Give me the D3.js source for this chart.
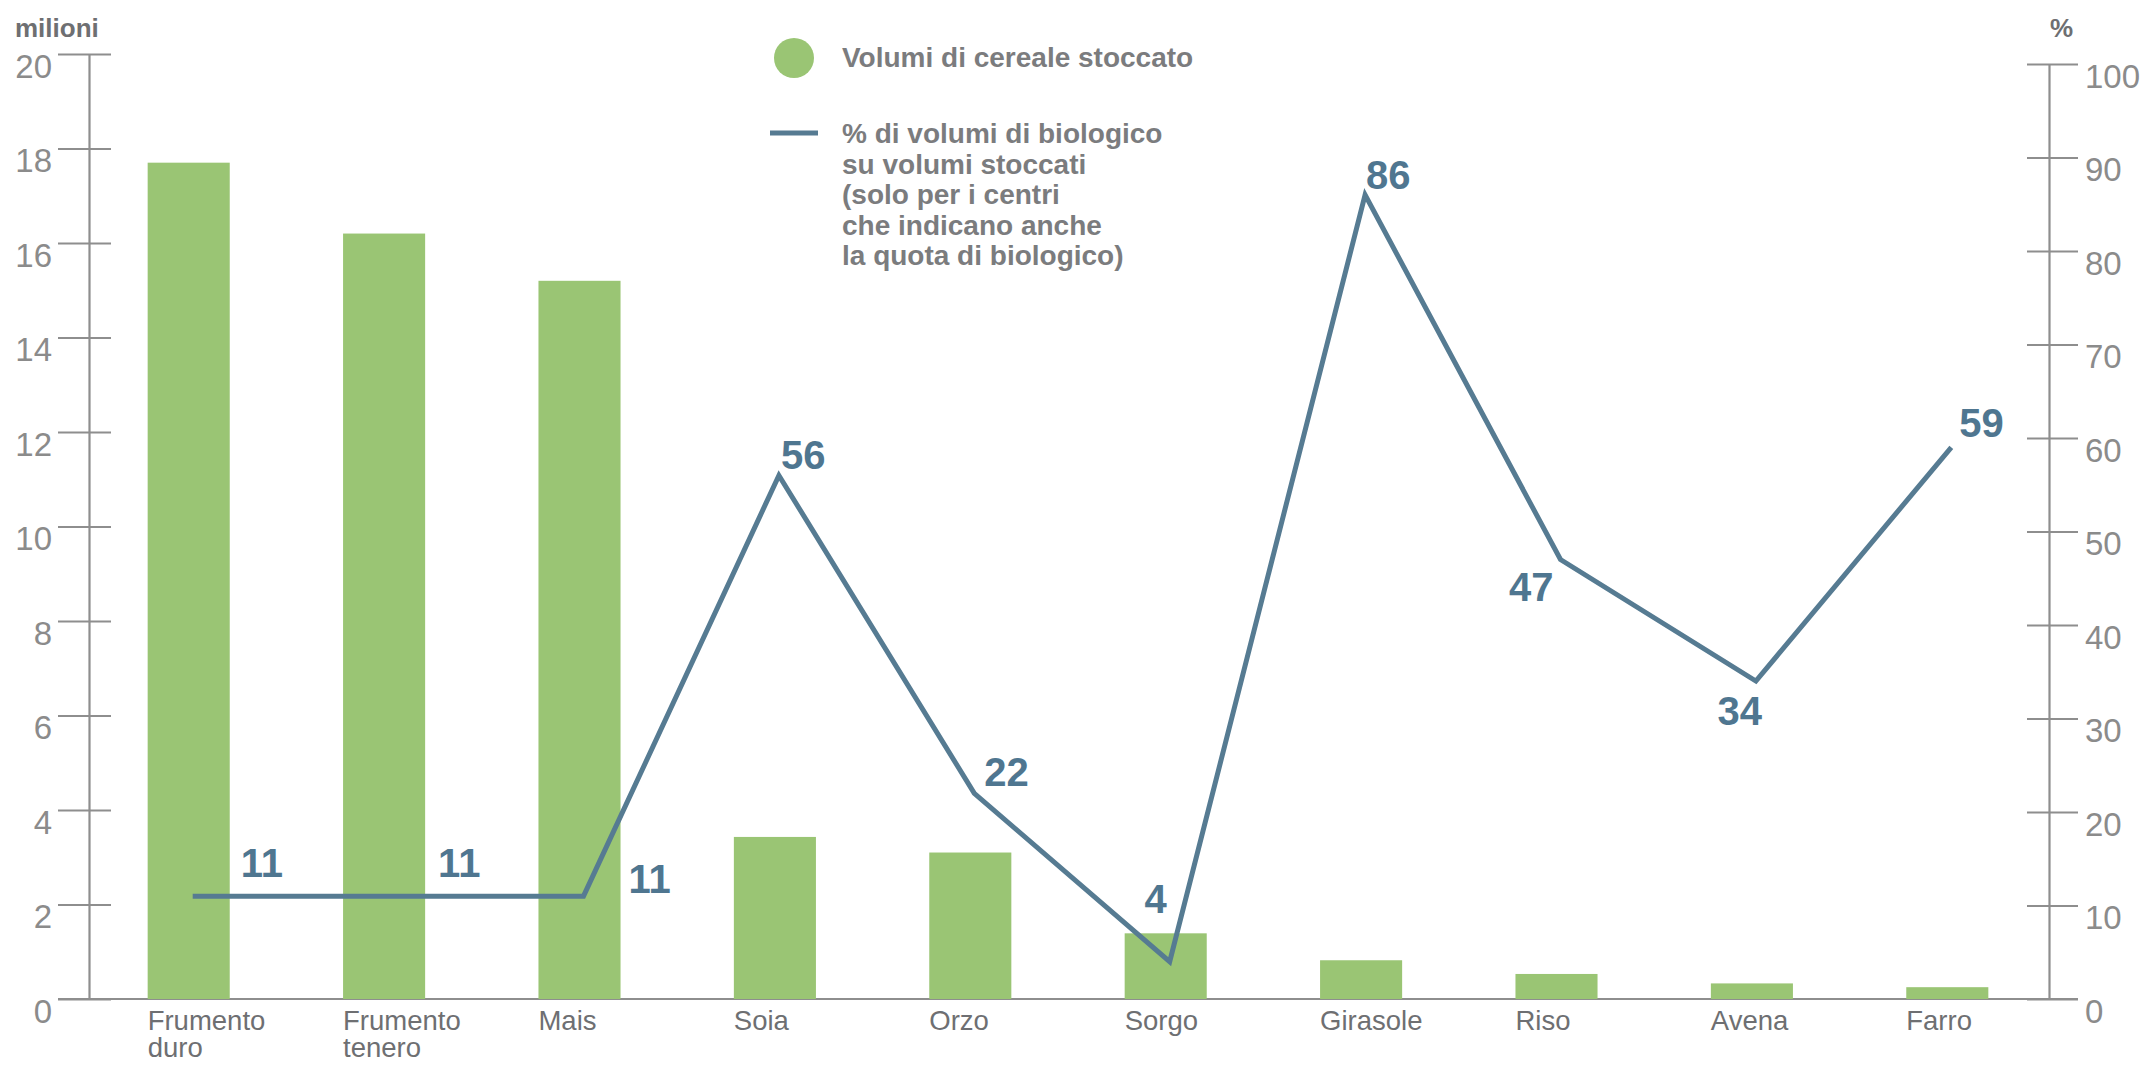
<!DOCTYPE html>
<html>
<head>
<meta charset="utf-8">
<script src="https://cdn.jsdelivr.net/npm/d3@7"></script>
<style>
    body { margin: 0; background: #fff; }
    svg text { font-family: "Liberation Sans", Arial, sans-serif; }
    .axis path, .axis line { stroke: #8e8e8e; stroke-width: 2.2; fill: none; }
    .axis text { fill: #8b8b8b; font-size: 33px; }
    .baseline { stroke: #8e8e8e; stroke-width: 2.2; }
    .bar { fill: #9ac574; }
    .share { fill: none; stroke: #567b92; stroke-width: 5; stroke-linejoin: miter; }
    .share-label { fill: #4f7690; font-size: 40px; font-weight: bold; }
    .cat-label { fill: #6e6f72; font-size: 27.5px; }
    .unit { fill: #6e6f72; font-size: 26px; font-weight: bold; }
    .legend text { fill: #7b7c7e; font-size: 28px; font-weight: bold; }
</style>
</head>
<body>
<svg id="chart" width="2146" height="1065"></svg>
<script>
// data
const categories = ["Frumento duro", "Frumento tenero", "Mais", "Soia", "Orzo",
                    "Sorgo", "Girasole", "Riso", "Avena", "Farro"];
const volumes = [17.7, 16.2, 15.2, 3.43, 3.1, 1.39, 0.82, 0.53, 0.33, 0.25];   // milioni
const organicShare = [11, 11, 11, 56, 22, 4, 86, 47, 34, 59];                  // %
const leftTicks = [0, 2, 4, 6, 8, 10, 12, 14, 16, 18, 20];
const rightTicks = [0, 10, 20, 30, 40, 50, 60, 70, 80, 90, 100];
const legendBars = "Volumi di cereale stoccato";
const legendLine = ["% di volumi di biologico", "su volumi stoccati", "(solo per i centri",
                    "che indicano anche", "la quota di biologico)"];

// where each % label sits relative to its point: dx, dy, anchor
const labelOffsets = [[48, -19, "start"], [50, -19, "start"], [45, -3, "start"],
                      [2, -6, "start"], [10, -7, "start"], [-3, -49, "end"],
                      [1, -6, "start"], [-7, 41, "end"], [6, 44, "end"], [8, -10, "start"]];

/** Class for the stored volume / organic share chart. */
class StockChart {
    constructor() {
        this.svg = d3.select("#chart");
        this.x = d3.scaleBand().domain(categories).range([91, 2045])
                    .paddingInner(0.58).paddingOuter(0.29);
        this.yLeft = d3.scaleLinear().domain([0, 20]).range([999, 54]);
        this.yRight = d3.scaleLinear().domain([0, 100]).range([999, 64]);
        this.leftX = 89;
        this.rightX = 2049;
    }

    drawAxes() {
        let left = this.svg.append("g").attr("class", "axis")
            .attr("transform", `translate(${this.leftX},0)`)
            .call(d3.axisLeft(this.yLeft).tickValues(leftTicks).tickSize(31)
                    .tickSizeOuter(0).tickPadding(6));
        left.selectAll(".tick line").attr("x1", 22);
        left.selectAll(".tick text").attr("dy", null).attr("y", 23);

        let right = this.svg.append("g").attr("class", "axis")
            .attr("transform", `translate(${this.rightX},0)`)
            .call(d3.axisRight(this.yRight).tickValues(rightTicks).tickSize(29)
                    .tickSizeOuter(0).tickPadding(7));
        right.selectAll(".tick line").attr("x1", -22);
        right.selectAll(".tick text").attr("dy", null).attr("y", 23);

        this.svg.selectAll(".axis").attr("font-family", null).attr("font-size", null);

        this.svg.append("line").attr("class", "baseline")
            .attr("x1", this.leftX - 31).attr("x2", this.rightX + 29)
            .attr("y1", this.yLeft(0)).attr("y2", this.yLeft(0));

        this.svg.append("text").attr("class", "unit").attr("x", 15).attr("y", 37).text("milioni");
        this.svg.append("text").attr("class", "unit").attr("x", 2050).attr("y", 37).text("%");
    }

    drawBars() {
        let x = this.x, y = this.yLeft;
        this.svg.append("g").selectAll("rect").data(categories).enter()
            .append("rect")
            .attr("class", "bar")
            .attr("x", d => x(d))
            .attr("width", x.bandwidth())
            .attr("y", (d, i) => y(volumes[i]))
            .attr("height", (d, i) => y(0) - y(volumes[i]));

        let labels = this.svg.append("g").selectAll("text").data(categories).enter()
            .append("text")
            .attr("class", "cat-label")
            .attr("x", d => x(d))
            .attr("y", 1030);
        labels.selectAll("tspan").data(d => d.split(" ")).enter()
            .append("tspan")
            .attr("x", function () { return this.parentNode.getAttribute("x"); })
            .attr("dy", (d, i) => i ? 27 : 0)
            .text(d => d);
    }

    drawLine() {
        let x = this.x, y = this.yRight;
        let px = (d, i) => x(categories[i]) + x.bandwidth() / 2 + 4;
        let line = d3.line().x((d, i) => px(d, i)).y(d => y(d));

        this.svg.append("path").datum(organicShare)
            .attr("class", "share")
            .attr("d", line);

        this.svg.append("g").selectAll("text").data(organicShare).enter()
            .append("text")
            .attr("class", "share-label")
            .attr("x", (d, i) => px(d, i) + labelOffsets[i][0])
            .attr("y", d => y(d))
            .attr("dy", (d, i) => labelOffsets[i][1])
            .attr("text-anchor", (d, i) => labelOffsets[i][2])
            .text(d => d);
    }

    drawLegend() {
        let g = this.svg.append("g").attr("class", "legend");
        g.append("circle").attr("cx", 794).attr("cy", 58).attr("r", 20).attr("fill", "#9ac574");
        g.append("text").attr("x", 842).attr("y", 67).text(legendBars);

        g.append("line").attr("x1", 770).attr("x2", 818).attr("y1", 133).attr("y2", 133)
            .attr("stroke", "#567b92").attr("stroke-width", 5);
        g.selectAll("text.l2").data(legendLine).enter()
            .append("text")
            .attr("class", "l2")
            .attr("x", 842)
            .attr("y", (d, i) => 143 + i * 30.5)
            .text(d => d);
    }
}

let chart = new StockChart();
chart.drawAxes();
chart.drawBars();
chart.drawLine();
chart.drawLegend();
</script>
</body>
</html>
